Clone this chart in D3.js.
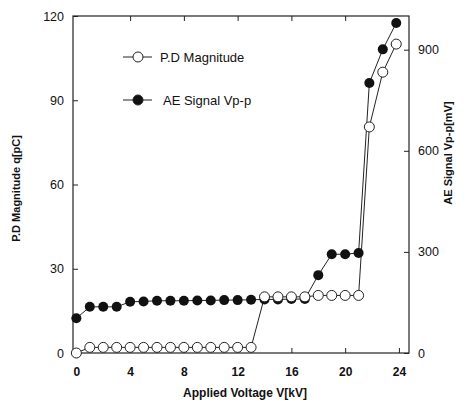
<!DOCTYPE html>
<html>
<head>
<meta charset="utf-8">
<script src="https://cdn.jsdelivr.net/npm/d3@7"></script>
<style>
  body { margin: 0; background: #fff; }
  text { font-family: "Liberation Sans", Arial, sans-serif; fill: #111; }
</style>
</head>
<body>
<svg class="chart"></svg>
<script>
// data
var voltage = [0, 1, 2, 3, 4, 5, 6, 7, 8, 9, 10, 11, 12, 13, 14, 15, 16, 17, 18, 19, 20, 21, 21.8, 22.8, 23.8];
var pdMagnitude = [0, 2, 2, 2, 2, 2, 2, 2, 2, 2, 2, 2, 2, 2, 20, 20, 20, 20, 20.5, 20.5, 20.5, 20.5, 80.5, 100, 110];
var aeSignal = [103, 137, 137, 137, 152, 153, 155, 155, 155, 156, 156, 157, 157, 158, 159, 159, 160, 160, 231, 293, 293, 297, 801, 901, 979];
var xTicks = [0, 4, 8, 12, 16, 20, 24];
var leftTicks = [0, 30, 60, 90, 120];
var rightTicks = [0, 300, 600, 900];
var legendLabels = ["P.D Magnitude", "AE Signal Vp-p"];

function show() {
    'use strict';

    var margin = { top: 16, bottom: 47, right: 55, left: 73 },
        width = 464 - margin.left - margin.right,
        height = 400 - margin.top - margin.bottom;

    var chart = d3.select(".chart")
        .attr("width", 464)
        .attr("height", 400)
        .append("g")
        .attr("transform", "translate(" + margin.left + "," + margin.top + ")");

    var x = d3.scaleLinear().domain([-0.25, 24.75]).range([0, width]);
    var yLeft = d3.scaleLinear().domain([0, 120]).range([height, 0]);
    var yRight = d3.scaleLinear().domain([0, 1000]).range([height, 0]);

    // frame
    chart.append("rect")
        .attr("width", width).attr("height", height)
        .attr("fill", "none").attr("stroke", "#222").attr("stroke-width", 1.2);

    var bottomAxis = chart.append("g")
        .attr("transform", "translate(0," + height + ")")
        .call(d3.axisBottom(x).tickValues(xTicks).tickSize(-5).tickPadding(14));
    bottomAxis.selectAll("text").style("font-size", "12px").style("font-weight", "bold");

    chart.append("g")
        .call(d3.axisTop(x).tickValues(xTicks.slice(1, 6)).tickSize(-5).tickFormat(""));

    var leftAxis = chart.append("g")
        .call(d3.axisLeft(yLeft).tickValues(leftTicks).tickSize(-5).tickPadding(9));
    leftAxis.selectAll("text").style("font-size", "12.5px");

    var rightAxis = chart.append("g")
        .attr("transform", "translate(" + width + ",0)")
        .call(d3.axisRight(yRight).tickValues(rightTicks).tickSize(-5).tickPadding(9));
    rightAxis.selectAll("text").style("font-size", "12.5px");

    chart.selectAll(".domain").remove();
    chart.selectAll(".tick line").attr("stroke", "#222");

    // lines
    var pdLine = d3.line()
        .x(function(d, i) { return x(voltage[i]); })
        .y(function(d) { return yLeft(d); });
    var aeLine = d3.line()
        .x(function(d, i) { return x(voltage[i]); })
        .y(function(d) { return yRight(d); });

    chart.append("path").datum(aeSignal)
        .attr("d", aeLine).attr("fill", "none").attr("stroke", "#222");
    chart.append("path").datum(pdMagnitude)
        .attr("d", pdLine).attr("fill", "none").attr("stroke", "#222");

    chart.selectAll(".ae").data(aeSignal).enter()
        .append("circle")
        .attr("class", "ae")
        .attr("cx", function(d, i) { return x(voltage[i]); })
        .attr("cy", function(d) { return yRight(d); })
        .attr("r", 5)
        .attr("fill", "#111");

    chart.selectAll(".pd").data(pdMagnitude).enter()
        .append("circle")
        .attr("class", "pd")
        .attr("cx", function(d, i) { return x(voltage[i]); })
        .attr("cy", function(d) { return yLeft(d); })
        .attr("r", 5)
        .attr("fill", "#fff").attr("stroke", "#222").attr("stroke-width", 1);

    // legend
    var legend = chart.selectAll(".legend").data(legendLabels).enter()
        .append("g")
        .attr("class", "legend")
        .attr("transform", function(d, i) { return "translate(50," + (41 + i * 43) + ")"; });
    legend.append("line")
        .attr("x1", 0).attr("x2", 29).attr("stroke", "#222");
    legend.append("circle")
        .attr("cx", 15).attr("r", 5)
        .attr("fill", function(d, i) { return i === 0 ? "#fff" : "#111"; })
        .attr("stroke", "#222");
    legend.append("text")
        .attr("x", function(d, i) { return i === 0 ? 37 : 40; })
        .attr("dy", "0.35em")
        .style("font-size", "13px")
        .text(function(d) { return d; });

    // axis titles
    chart.append("text")
        .attr("transform", "translate(" + (-53) + "," + (height / 2 + 4) + ") rotate(-90)")
        .attr("text-anchor", "middle")
        .style("font-size", "11px").style("font-weight", "bold")
        .text("P.D Magnitude q[pC]");
    chart.append("text")
        .attr("transform", "translate(" + (width + 43) + "," + 137 + ") rotate(-90)")
        .attr("text-anchor", "middle")
        .style("font-size", "11px").style("font-weight", "bold")
        .text("AE Signal Vp-p[mV]");
    chart.append("text")
        .attr("x", 172).attr("y", height + 44)
        .attr("text-anchor", "middle")
        .style("font-size", "12px").style("font-weight", "bold")
        .text("Applied Voltage V[kV]");
}
show();
</script>
</body>
</html>
